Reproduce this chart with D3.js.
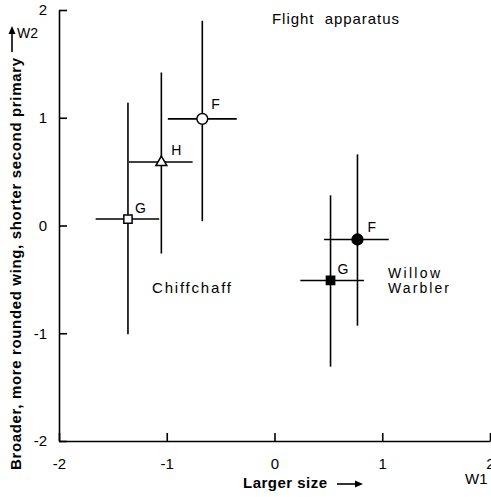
<!DOCTYPE html>
<html>
<head>
<meta charset="utf-8">
<script src="https://cdn.jsdelivr.net/npm/d3@7"></script>
<style>
  html, body { margin: 0; padding: 0; background: #fff; }
  svg { display: block; }
  text { font-family: "Liberation Sans", Arial, Helvetica, sans-serif; fill: #000; }
</style>
</head>
<body>
<svg id="chart" width="491" height="497"></svg>
<script>
// ---- data ----
const groups  = ["Chiffchaff", "Chiffchaff", "Chiffchaff", "Willow Warbler", "Willow Warbler"];
const labels  = ["G", "H", "F", "F", "G"];
const w1      = [-1.36, -1.05, -0.67, 0.77, 0.52];
const w2      = [0.06, 0.59, 0.99, -0.13, -0.51];
const w1Lo    = [-1.66, -1.35, -0.99, 0.46, 0.24];
const w1Hi    = [-1.07, -0.76, -0.35, 1.06, 0.83];
const w2Lo    = [-1.01, -0.26, 0.04, -0.93, -1.31];
const w2Hi    = [1.14, 1.42, 1.90, 0.66, 0.28];
const shapes  = ["square", "triangle", "circle", "circle", "square"];
const filled  = [false, false, false, true, true];
const xTicks  = [-2, -1, 0, 1, 2];
const yTicks  = [-2, -1, 0, 1, 2];
const title   = "Flight apparatus";
const xTitle  = "Larger size";
const yTitle  = "Broader, more rounded wing, shorter second primary";
const xName   = "W1";
const yName   = "W2";
const speciesNames = ["Chiffchaff", "Willow", "Warbler"];

// ---- layout ----
const svg = d3.select("#chart");
const x = d3.scaleLinear().domain([-2, 2]).range([59, 490]);
const y = d3.scaleLinear().domain([-2, 2]).range([441, 10]);
const ink = "#000";
const lw = 1.6;
const fmt = d => d3.format("d")(d).replace("−", "-");

// axes
const gx = svg.append("g").attr("transform", "translate(0,441)")
  .call(d3.axisBottom(x).tickValues(xTicks).tickSizeInner(-8).tickSizeOuter(0).tickPadding(17).tickFormat(fmt));
const gy = svg.append("g").attr("transform", "translate(59,0)")
  .call(d3.axisLeft(y).tickValues(yTicks).tickSizeInner(-8).tickSizeOuter(0).tickPadding(12).tickFormat(fmt));
[gx, gy].forEach(g => {
  g.select(".domain").attr("stroke", ink).attr("stroke-width", lw);
  g.selectAll(".tick line").attr("stroke", ink).attr("stroke-width", lw);
  g.selectAll(".tick text").attr("fill", ink).style("font-size", "15px")
    .style("font-family", "'Liberation Sans', Arial, Helvetica, sans-serif");
});

// error bars
const idx = d3.range(w1.length);
const bars = svg.append("g").attr("stroke", ink).attr("stroke-width", lw);
bars.selectAll("line.h").data(idx).join("line").attr("class", "h")
  .attr("x1", i => x(w1Lo[i])).attr("x2", i => x(w1Hi[i]))
  .attr("y1", i => y(w2[i])).attr("y2", i => y(w2[i]));
bars.selectAll("line.v").data(idx).join("line").attr("class", "v")
  .attr("x1", i => x(w1[i])).attr("x2", i => x(w1[i]))
  .attr("y1", i => y(w2Lo[i])).attr("y2", i => y(w2Hi[i]));

// markers
const symType = { square: d3.symbolSquare, triangle: d3.symbolTriangle, circle: d3.symbolCircle };
const symSize = { square: 68, triangle: 52, circle: 92 };
svg.append("g").selectAll("path").data(idx).join("path")
  .attr("transform", i => `translate(${x(w1[i])},${y(w2[i]) + (shapes[i] === "triangle" ? 0.5 : 0)})`)
  .attr("d", i => d3.symbol().type(symType[shapes[i]]).size(symSize[shapes[i]])())
  .attr("fill", i => filled[i] ? ink : "#fff")
  .attr("stroke", ink).attr("stroke-width", 1.5);

// point labels
const labelOffsets = [[7, -6], [10, -7], [9, -10], [10, -8], [7, -6]];
svg.append("g").selectAll("text").data(idx).join("text")
  .attr("x", i => x(w1[i]) + labelOffsets[i][0])
  .attr("y", i => y(w2[i]) + labelOffsets[i][1])
  .style("font-size", "14px")
  .text(i => labels[i]);

// annotations
svg.append("text").attr("x", 272).attr("y", 24).style("font-size", "15px")
  .attr("textLength", 127).attr("lengthAdjust", "spacing")
  .style("white-space", "pre").text(title.replace(" ", "  "));
svg.append("text").attr("x", 152).attr("y", 293).style("font-size", "15px")
  .attr("textLength", 79).attr("lengthAdjust", "spacing").text(speciesNames[0]);
svg.append("text").attr("x", 388).attr("y", 278).style("font-size", "14px")
  .attr("textLength", 52).attr("lengthAdjust", "spacing").text(speciesNames[1]);
svg.append("text").attr("x", 388).attr("y", 293).style("font-size", "14px")
  .attr("textLength", 61).attr("lengthAdjust", "spacing").text(speciesNames[2]);

// x title + arrow
svg.append("text").attr("x", 243).attr("y", 488).style("font-size", "15px").style("font-weight", "bold")
  .attr("textLength", 84).attr("lengthAdjust", "spacing").text(xTitle);
svg.append("line").attr("x1", 337).attr("x2", 356).attr("y1", 484).attr("y2", 484)
  .attr("stroke", ink).attr("stroke-width", 1.6);
svg.append("path").attr("d", "M363,484 L355,480.5 L355,487.5 Z").attr("fill", ink);
svg.append("text").attr("x", 465).attr("y", 484).style("font-size", "15px").text(xName);

// y title + arrow
svg.append("text").attr("transform", "translate(21,264) rotate(-90)")
  .attr("text-anchor", "middle").style("font-size", "15px").style("font-weight", "bold")
  .attr("textLength", 412).attr("lengthAdjust", "spacing").text(yTitle);
svg.append("line").attr("x1", 12).attr("x2", 12).attr("y1", 52).attr("y2", 33)
  .attr("stroke", ink).attr("stroke-width", 1.6);
svg.append("path").attr("d", "M12,26 L8.5,34 L15.5,34 Z").attr("fill", ink);
svg.append("text").attr("x", 17).attr("y", 38).style("font-size", "14px").text(yName);
</script>
</body>
</html>
